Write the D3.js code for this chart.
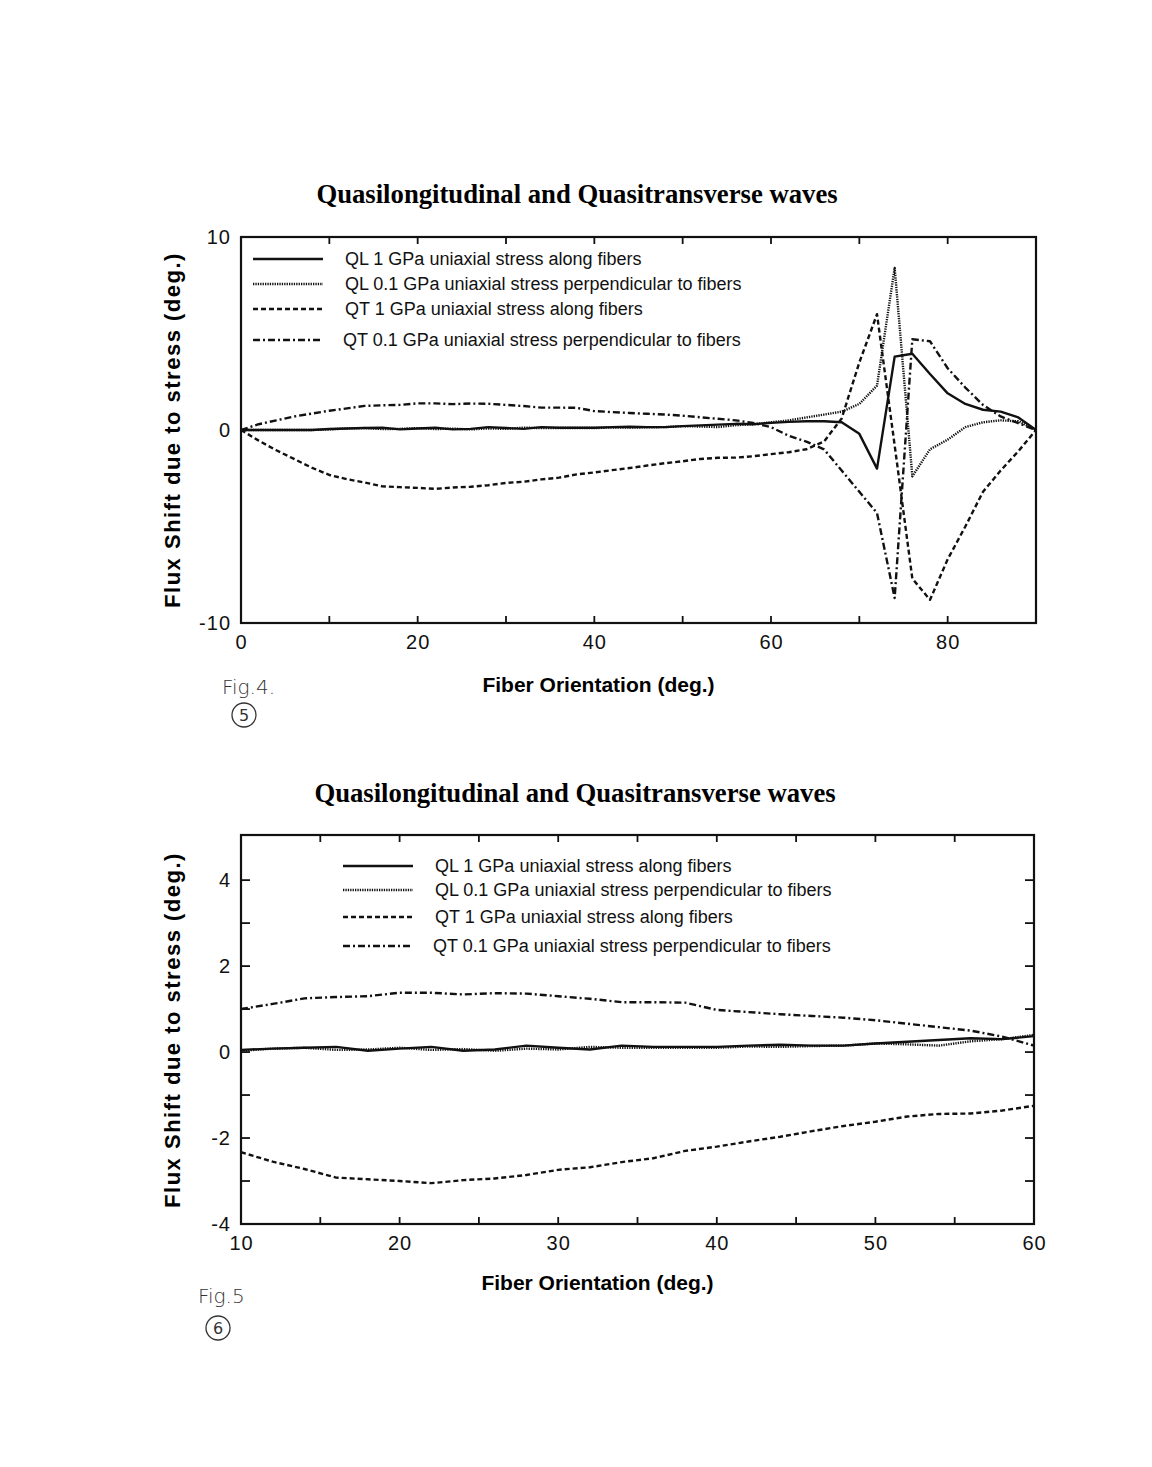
<!DOCTYPE html>
<html>
<head>
<meta charset="utf-8">
<script src="https://cdn.jsdelivr.net/npm/d3@7"></script>
<style>
  body { margin: 0; background: #fff; }
  svg { display: block; }
</style>
</head>
<body>
<div id="chart"></div>
<script>
// fiber orientation, every 2 degrees
const angles = d3.range(0, 91, 2);

// QL 1 GPa uniaxial stress along fibers
const qlAlong = [0, 0, 0, 0, 0, 0.05, 0.08, 0.1, 0.12, 0.03, 0.08, 0.12, 0.03, 0.06, 0.15, 0.1,
  0.06, 0.15, 0.12, 0.12, 0.12, 0.15, 0.17, 0.15, 0.15, 0.2, 0.24, 0.28, 0.32, 0.3, 0.37,
  0.42, 0.45, 0.45, 0.4, -0.2, -2.0, 3.8, 3.95, 2.9, 1.9, 1.35, 1.05, 0.95, 0.65, 0];
// QL 0.1 GPa uniaxial stress perpendicular to fibers
const qlPerp = [0, 0, 0, 0, 0, 0.03, 0.08, 0.1, 0.05, 0.06, 0.1, 0.05, 0.07, 0.03, 0.08, 0.06,
  0.12, 0.1, 0.1, 0.1, 0.1, 0.13, 0.12, 0.14, 0.15, 0.2, 0.18, 0.15, 0.25, 0.3, 0.4,
  0.5, 0.65, 0.8, 0.95, 1.35, 2.3, 8.4, -2.4, -1.0, -0.5, 0.15, 0.4, 0.5, 0.45, 0];
// QT 1 GPa uniaxial stress along fibers
const qtAlong = [0, -0.55, -1.05, -1.5, -1.95, -2.33, -2.55, -2.72, -2.92, -2.96, -3.0, -3.05,
  -2.98, -2.94, -2.86, -2.74, -2.68, -2.56, -2.47, -2.3, -2.2, -2.08, -1.97, -1.84, -1.72,
  -1.62, -1.5, -1.44, -1.43, -1.36, -1.25, -1.15, -1.0, -0.6, 0.6, 3.5, 6.0, -0.8, -7.7,
  -8.8, -6.7, -5.0, -3.2, -2.1, -1.1, 0];
// QT 0.1 GPa uniaxial stress perpendicular to fibers
const qtPerp = [0, 0.3, 0.5, 0.7, 0.85, 1.0, 1.12, 1.25, 1.28, 1.3, 1.38, 1.38, 1.34, 1.37,
  1.36, 1.3, 1.24, 1.16, 1.16, 1.15, 0.98, 0.93, 0.88, 0.84, 0.8, 0.74, 0.66, 0.58, 0.5,
  0.36, 0.15, -0.3, -0.6, -1.0, -2.1, -3.2, -4.3, -8.7, 4.7, 4.6, 3.2, 2.2, 1.3, 0.7, 0.35, 0];

const seriesNames = [
  "QL 1 GPa uniaxial stress along fibers",
  "QL 0.1 GPa uniaxial stress perpendicular to fibers",
  "QT 1 GPa uniaxial stress along fibers",
  "QT 0.1 GPa uniaxial stress perpendicular to fibers"
];
const seriesValues = [qlAlong, qlPerp, qtAlong, qtPerp];
const dashes = [null, "1.3,1.1", "5,3", "7,3,2,3"];
const widths = [2.4, 2.4, 2.4, 2.4];

const topXTicks = [0, 20, 40, 60, 80];
const topYTicks = [-10, 0, 10];
const bottomXTicks = [10, 20, 30, 40, 50, 60];
const bottomYTicks = [-4, -2, 0, 2, 4];

const W = 1152, H = 1467;
const svg = d3.select("#chart").append("svg").attr("width", W).attr("height", H);

const sans = "'Liberation Sans', Arial, sans-serif";
const serif = "'Liberation Serif', 'Times New Roman', serif";

function drawChart(opt) {
  const x = d3.scaleLinear().domain(opt.xDomain).range([opt.left, opt.right]);
  const y = d3.scaleLinear().domain(opt.yDomain).range([opt.bottom, opt.top]);

  svg.append("text")
    .attr("x", opt.titleX).attr("y", opt.titleY)
    .attr("text-anchor", "middle")
    .style("font-family", serif).style("font-weight", "bold").style("font-size", "26.7px")
    .text("Quasilongitudinal and Quasitransverse waves");

  // ticks inside the frame
  const g = svg.append("g");
  opt.xMinor.forEach(v => {
    g.append("line").attr("x1", x(v)).attr("x2", x(v)).attr("y1", opt.bottom).attr("y2", opt.bottom - 7)
      .attr("stroke", "#111").attr("stroke-width", 1.8);
    g.append("line").attr("x1", x(v)).attr("x2", x(v)).attr("y1", opt.top).attr("y2", opt.top + 7)
      .attr("stroke", "#111").attr("stroke-width", 1.8);
  });
  opt.yMinor.forEach(v => {
    g.append("line").attr("x1", opt.left).attr("x2", opt.left + 9).attr("y1", y(v)).attr("y2", y(v))
      .attr("stroke", "#111").attr("stroke-width", 1.8);
    g.append("line").attr("x1", opt.right).attr("x2", opt.right - 9).attr("y1", y(v)).attr("y2", y(v))
      .attr("stroke", "#111").attr("stroke-width", 1.8);
  });

  // tick labels (plain hyphen minus like the original)
  const fmt = d => String(d);
  const xAxis = svg.append("g").attr("transform", `translate(0,${opt.bottom})`)
    .call(d3.axisBottom(x).tickValues(opt.xTicks).tickSize(0).tickPadding(12).tickFormat(fmt));
  xAxis.select(".domain").remove();
  xAxis.selectAll("text").style("font-family", sans).style("font-size", "20px")
    .style("letter-spacing", "1px").attr("fill", "#111");

  const yAxis = svg.append("g").attr("transform", `translate(${opt.left},0)`)
    .call(d3.axisLeft(y).tickValues(opt.yTicks).tickSize(0).tickPadding(10).tickFormat(fmt));
  yAxis.select(".domain").remove();
  yAxis.selectAll("text").style("font-family", sans).style("font-size", "20px")
    .style("letter-spacing", "1px").attr("fill", "#111");

  // clip
  const clipId = "clip" + opt.id;
  svg.append("clipPath").attr("id", clipId).append("rect")
    .attr("x", opt.left).attr("y", opt.top)
    .attr("width", opt.right - opt.left).attr("height", opt.bottom - opt.top);

  const line = d3.line().x(d => x(d[0])).y(d => y(d[1]));
  const lines = svg.append("g").attr("clip-path", `url(#${clipId})`);
  seriesValues.forEach((vals, i) => {
    const pts = angles.map((a, k) => [a, vals[k]])
      .filter(p => p[0] >= opt.xDomain[0] && p[0] <= opt.xDomain[1]);
    lines.append("path").datum(pts)
      .attr("d", line)
      .attr("fill", "none").attr("stroke", "#111")
      .attr("stroke-width", widths[i])
      .attr("stroke-dasharray", dashes[i])
      .attr("stroke-linejoin", "round");
  });

  // frame
  svg.append("rect")
    .attr("x", opt.left).attr("y", opt.top)
    .attr("width", opt.right - opt.left).attr("height", opt.bottom - opt.top)
    .attr("fill", "none").attr("stroke", "#111").attr("stroke-width", 2.2);

  // legend
  seriesNames.forEach((name, i) => {
    const ly = opt.legendY[i];
    svg.append("line")
      .attr("x1", opt.legendX).attr("x2", opt.legendX + 70)
      .attr("y1", ly).attr("y2", ly)
      .attr("stroke", "#111").attr("stroke-width", widths[i])
      .attr("stroke-dasharray", dashes[i]);
    svg.append("text")
      .attr("x", opt.legendX + 92 - (i === 3 ? 2 : 0)).attr("y", ly + 6)
      .style("font-family", sans).style("font-size", "18px").attr("fill", "#111")
      .text(name);
  });

  // axis titles
  svg.append("text")
    .attr("x", (opt.left + opt.right) / 2 - 40).attr("y", opt.xLabelY)
    .attr("text-anchor", "middle")
    .style("font-family", sans).style("font-weight", "bold").style("font-size", "21px")
    .text("Fiber Orientation (deg.)");
  svg.append("text")
    .attr("transform", `translate(${opt.yLabelX},${opt.yLabelCY}) rotate(-90)`)
    .attr("text-anchor", "middle")
    .style("font-family", sans).style("font-weight", "bold").style("font-size", "22px")
    .style("letter-spacing", "1.5px")
    .text("Flux Shift due to stress (deg.)");

  // handwritten note
  const hand = "'DejaVu Sans', sans-serif";
  svg.append("text").attr("x", opt.noteX).attr("y", opt.noteY)
    .style("font-family", hand).style("font-size", "20px").style("font-weight", "200")
    .attr("fill", "#333").text(opt.note);
  svg.append("circle").attr("cx", opt.circX).attr("cy", opt.circY).attr("r", 12)
    .attr("fill", "none").attr("stroke", "#333").attr("stroke-width", 1.3);
  svg.append("text").attr("x", opt.circX).attr("y", opt.circY + 6).attr("text-anchor", "middle")
    .style("font-family", hand).style("font-size", "16px").attr("fill", "#333").text(opt.circ);
}

drawChart({
  id: "top", left: 241, right: 1036, top: 237, bottom: 623,
  xDomain: [0, 90], yDomain: [-10, 10],
  xTicks: topXTicks, yTicks: topYTicks,
  xMinor: d3.range(10, 90, 10), yMinor: [],
  titleX: 577, titleY: 203,
  legendX: 253, legendY: [259, 284, 309, 340],
  xLabelY: 692, yLabelX: 180, yLabelCY: 430,
  note: "Fig.4.", noteX: 222, noteY: 694, circ: "5", circX: 244, circY: 715
});

drawChart({
  id: "bottom", left: 241, right: 1034, top: 835, bottom: 1224,
  xDomain: [10, 60], yDomain: [-4, 5.05],
  xTicks: bottomXTicks, yTicks: bottomYTicks,
  xMinor: d3.range(15, 60, 5), yMinor: [-3, -2, -1, 0, 1, 2, 3, 4],
  titleX: 575, titleY: 802,
  legendX: 343, legendY: [866, 890, 917, 946],
  xLabelY: 1290, yLabelX: 180, yLabelCY: 1030,
  note: "Fig.5", noteX: 198, noteY: 1303, circ: "6", circX: 218, circY: 1328
});
</script>
</body>
</html>
